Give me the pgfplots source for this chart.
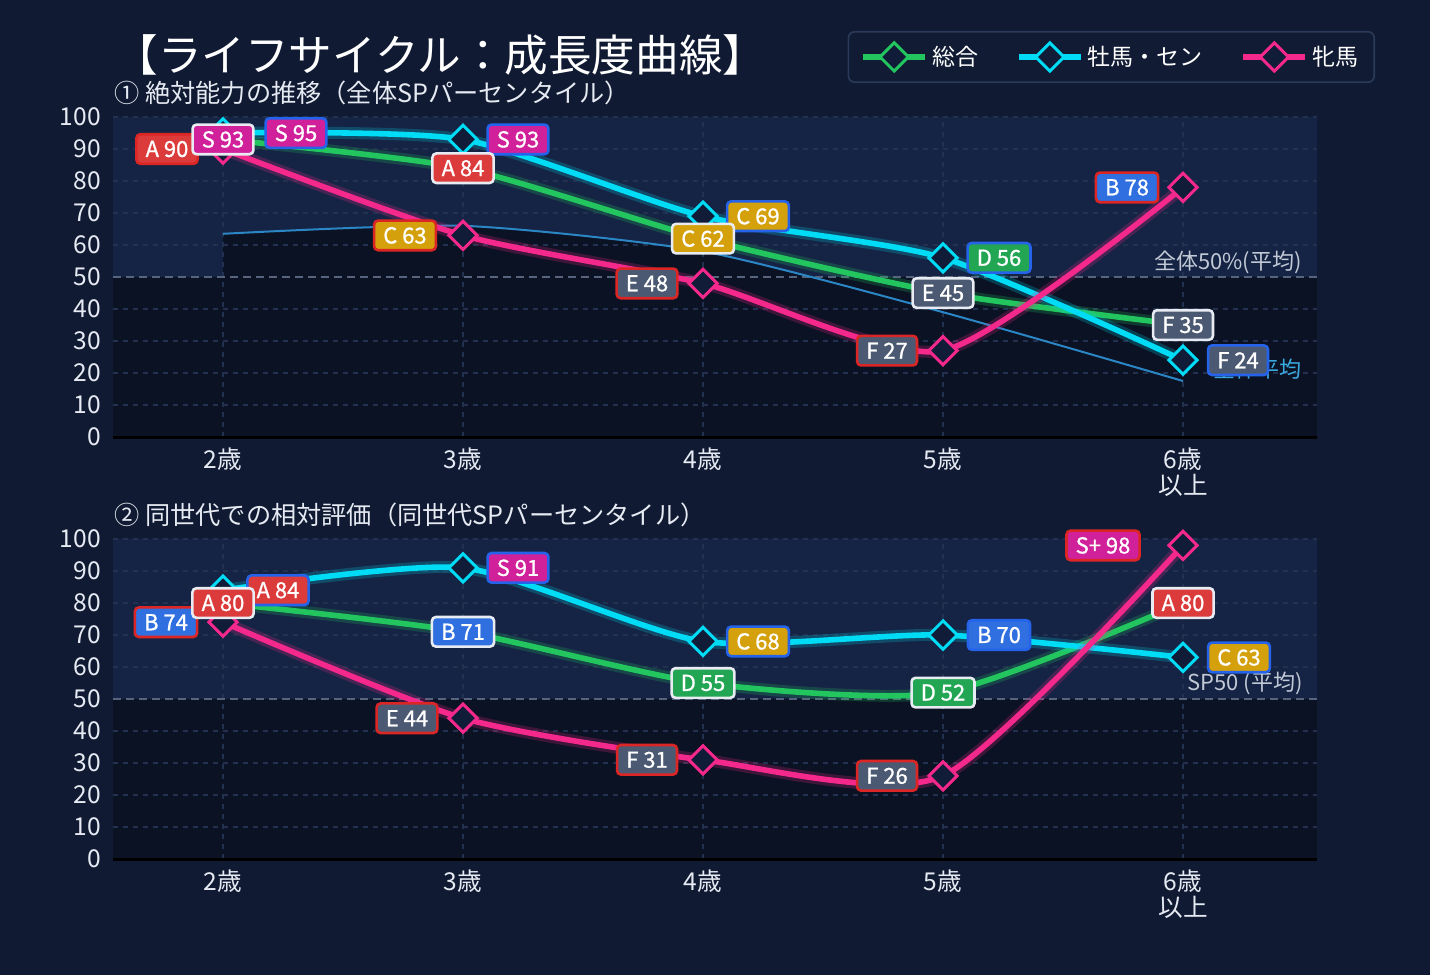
\documentclass[border=0pt]{standalone}
\usepackage{fontspec}
\setmainfont{Noto Sans CJK JP}
\newfontfamily\lblfont{Noto Sans CJK JP}[FakeBold=0.9]
\usepackage{pgfplots}
\usepackage{pgfplotstable}
\pgfplotsset{compat=1.18}

\definecolor{bgfig}{HTML}{101B33}
\definecolor{bglight}{HTML}{152444}
\definecolor{bgdark}{HTML}{0B1224}
\definecolor{gridc}{HTML}{22314F}
\definecolor{refline}{HTML}{56647E}
\definecolor{baseline}{HTML}{26375E}
\definecolor{cgreen}{HTML}{22C55E}
\definecolor{ccyan}{HTML}{00DCF5}
\definecolor{cpink}{HTML}{F5288C}
\definecolor{avgc}{HTML}{2B86C5}
\definecolor{avgtxt}{HTML}{3AA9E0}
\definecolor{mfill}{HTML}{111C38}
\definecolor{gS}{HTML}{D0209A}
\definecolor{gA}{HTML}{DC3B3B}
\definecolor{gB}{HTML}{2F6FDF}
\definecolor{gC}{HTML}{D4A00B}
\definecolor{gD}{HTML}{22A653}
\definecolor{gE}{HTML}{4B5A72}
\definecolor{bdW}{HTML}{E8ECF2}
\definecolor{bdB}{HTML}{2563EB}
\definecolor{bdR}{HTML}{DC2626}
\definecolor{txt}{HTML}{E6EAF2}
\definecolor{reftxt}{HTML}{C2C9D6}
\definecolor{legfill}{HTML}{111C34}
\definecolor{legdraw}{HTML}{2A3A58}

% x: 0=2歳, 1=3歳, 2=4歳, 3=5歳, 4=6歳以上
\pgfplotstableread{
x total male female avg
0 93 95 90 63.5
1 84 93 63 66
2 62 69 48 58
3 45 56 27 39
4 35 24 78 17.5
}\tabA
\pgfplotstableread{
x total male female
0 80 84 74
1 71 91 44
2 55 68 31
3 52 70 26
4 80 63 98
}\tabB

\pgfplotsset{
  lifeaxis/.style={
    scale only axis, width=602pt, height=160pt,
    xmin=-0.4583, xmax=4.5583, ymin=0, ymax=100,
    xtick={0,1,2,3,4},
    xticklabels={2歳,3歳,4歳,5歳,{6歳\\以上}},
    ytick={0,10,...,100},
    xticklabel style={align=center, font=\fontsize{12.3}{13}\selectfont, text=txt, yshift=-2pt},
    yticklabel style={font=\fontsize{12.3}{13}\selectfont, text=txt, xshift=-2.5pt},
    /pgf/number format/assume math mode=true,
    axis line style={draw=none},
    major tick length=0pt,
    clip=false,
  },
  glow/.style={forget plot, smooth, tension=0.4, line width=6pt, opacity=0.22},
  ser/.style={smooth, tension=0.4, line width=2.8pt, mark=square*, mark size=5pt,
    mark options={rotate=45, fill=mfill, draw=#1, line width=1.5pt, solid}},
  bgfill/.style={forget plot, draw=none, fill=#1},
}
\tikzset{
  lbl/.style={draw, line width=1.3pt, rounded corners=2pt, text=white,
    font=\lblfont\fontsize{11}{12}\selectfont, inner xsep=4.6pt, inner ysep=1.5pt,
    minimum height=14.8pt},
  gridl/.style={gridc, line width=0.6pt, dash pattern=on 2.5pt off 2.5pt},
  reft/.style={anchor=east, inner sep=0pt, font=\fontsize{11}{12}\selectfont},
}
% coordinate inside the axis, label drawn after the axis (on top of marks)
\newcommand{\lc}[3]{\coordinate (#1) at (axis cs:#2,#3);}
\newcommand{\lab}[5]{\node[lbl, fill=#3, draw=#4, xshift=#5] at (#1) {#2};}
\newcommand{\panelbg}{%
  \addplot[bgfill=bgdark] coordinates {(-0.4583,0) (-0.4583,100) (4.5583,100) (4.5583,0)} -- cycle;
  \addplot[bgfill=bglight] coordinates {(-0.4583,50) (-0.4583,100) (4.5583,100) (4.5583,50)} -- cycle;
}
\newcommand{\panelgrid}{%
  \pgfplotsinvokeforeach{10,20,30,40,60,70,80,90,100}{\draw[gridl] (axis cs:-0.4583,##1) -- (axis cs:4.5583,##1);}
  \pgfplotsinvokeforeach{0,1,2,3,4}{\draw[gridl] (axis cs:##1,0) -- (axis cs:##1,100);}
  \draw[refline, line width=1pt, dash pattern=on 4pt off 2.5pt] (axis cs:-0.4583,50) -- (axis cs:4.5583,50);
  \draw[baseline, line width=1.5pt] (axis cs:-0.4583,0) -- (axis cs:4.5583,0);
}

\begin{document}
\begin{tikzpicture}
\useasboundingbox (0,0) rectangle (715pt,-487.5pt);
\fill[bgfig] (0,0) rectangle (715pt,-487.5pt);

% ---------------- top axis ----------------
\begin{axis}[lifeaxis, at={(56.5pt,-218.5pt)}, anchor=south west,
  legend columns=3,
  legend style={at={(1.0482,1.26875)}, anchor=north east, fill=legfill, draw=legdraw,
    rounded corners=3pt, line width=0.8pt, text=white,
    font=\fontsize{11.5}{13}\selectfont, inner xsep=6pt, inner ysep=5pt,
    /tikz/every even column/.append style={column sep=17pt}},
  legend image code/.code={\draw[mark repeat=2, mark phase=2] plot coordinates {(0pt,0pt) (15.5pt,0pt) (31pt,0pt)};},
]
\panelbg
\addplot[forget plot, smooth, tension=0.4, fill=bgdark, draw=none] table[x=x,y=avg]{\tabA} \closedcycle;
\panelgrid
\addplot[forget plot, smooth, tension=0.4, avgc, line width=1pt] table[x=x,y=avg]{\tabA};

\addplot[glow, cgreen] table[x=x,y=total]{\tabA};
\addplot[ser=cgreen, cgreen] table[x=x,y=total]{\tabA};
\addlegendentry{総合}
\addplot[glow, ccyan] table[x=x,y=male]{\tabA};
\addplot[ser=ccyan, ccyan] table[x=x,y=male]{\tabA};
\addlegendentry{牡馬・セン}
\addplot[glow, cpink] table[x=x,y=female]{\tabA};
\addplot[ser=cpink, cpink] table[x=x,y=female]{\tabA};
\addlegendentry{牝馬}

\node[reft, text=reftxt] at (axis cs:4.496,54.7) {全体50\%(平均)};
\node[reft, text=avgtxt] at (axis cs:4.496,21.25) {全体平均};

\lc{tf0}{0}{90}\lc{tf1}{1}{63}\lc{tf2}{2}{48}\lc{tf3}{3}{27}\lc{tf4}{4}{78}
\lc{tm0}{0}{95}\lc{tm1}{1}{93}\lc{tm2}{2}{69}\lc{tm3}{3}{56}\lc{tm4}{4}{24}
\lc{tt0}{0}{93}\lc{tt1}{1}{84}\lc{tt2}{2}{62}\lc{tt3}{3}{45}\lc{tt4}{4}{35}
\end{axis}

% ---------------- bottom axis ----------------
\begin{axis}[lifeaxis, at={(56.5pt,-429.5pt)}, anchor=south west]
\panelbg
\panelgrid

\addplot[glow, cgreen] table[x=x,y=total]{\tabB};
\addplot[ser=cgreen, cgreen] table[x=x,y=total]{\tabB};
\addplot[glow, ccyan] table[x=x,y=male]{\tabB};
\addplot[ser=ccyan, ccyan] table[x=x,y=male]{\tabB};
\addplot[glow, cpink] table[x=x,y=female]{\tabB};
\addplot[ser=cpink, cpink] table[x=x,y=female]{\tabB};

\node[reft, text=reftxt] at (axis cs:4.5,55) {SP50 (平均)};

\lc{bf0}{0}{74}\lc{bf1}{1}{44}\lc{bf2}{2}{31}\lc{bf3}{3}{26}\lc{bf4}{4}{98}
\lc{bm0}{0}{84}\lc{bm1}{1}{91}\lc{bm2}{2}{68}\lc{bm3}{3}{70}\lc{bm4}{4}{63}
\lc{bt0}{0}{80}\lc{bt1}{1}{71}\lc{bt2}{2}{55}\lc{bt3}{3}{52}\lc{bt4}{4}{80}
\end{axis}

% ---------------- value labels (on top) ----------------
% top panel: female (red border), male (blue border), total (white border)
\lab{tf0}{A 90}{gA}{bdR}{-28pt}
\lab{tf1}{C 63}{gC}{bdR}{-29pt}
\lab{tf2}{E 48}{gE}{bdR}{-28pt}
\lab{tf3}{F 27}{gE}{bdR}{-28pt}
\lab{tf4}{B 78}{gB}{bdR}{-28pt}
\lab{tm0}{S 95}{gS}{bdB}{36.5pt}
\lab{tm1}{S 93}{gS}{bdB}{27.5pt}
\lab{tm2}{C 69}{gC}{bdB}{27.5pt}
\lab{tm3}{D 56}{gD}{bdB}{28pt}
\lab{tm4}{F 24}{gE}{bdB}{27.5pt}
\lab{tt0}{S 93}{gS}{bdW}{0pt}
\lab{tt1}{A 84}{gA}{bdW}{0pt}
\lab{tt2}{C 62}{gC}{bdW}{0pt}
\lab{tt3}{E 45}{gE}{bdW}{0pt}
\lab{tt4}{F 35}{gE}{bdW}{0pt}
% bottom panel
\lab{bf0}{B 74}{gB}{bdR}{-28.5pt}
\lab{bf1}{E 44}{gE}{bdR}{-28pt}
\lab{bf2}{F 31}{gE}{bdR}{-28pt}
\lab{bf3}{F 26}{gE}{bdR}{-28pt}
\lab{bf4}{S+ 98}{gS}{bdR}{-40pt}
\lab{bm0}{A 84}{gA}{bdB}{27.5pt}
\lab{bm1}{S 91}{gS}{bdB}{27.5pt}
\lab{bm2}{C 68}{gC}{bdB}{27.5pt}
\lab{bm3}{B 70}{gB}{bdB}{28pt}
\lab{bm4}{C 63}{gC}{bdB}{28pt}
\lab{bt0}{A 80}{gA}{bdW}{0pt}
\lab{bt1}{B 71}{gB}{bdW}{0pt}
\lab{bt2}{D 55}{gD}{bdW}{0pt}
\lab{bt3}{D 52}{gD}{bdW}{0pt}
\lab{bt4}{A 80}{gA}{bdW}{0pt}

% ---------------- titles ----------------
\node[anchor=west, text=white, font=\fontsize{21.8}{24}\selectfont, inner sep=0pt] at (57pt,-27.5pt) {【ライフサイクル：成長度曲線】};
\node[anchor=west, text=txt, font=\fontsize{12.6}{14}\selectfont, inner sep=0pt] at (57pt,-46.5pt) {① 絶対能力の推移（全体SPパーセンタイル）};
\node[anchor=west, text=txt, font=\fontsize{12.6}{14}\selectfont, inner sep=0pt] at (57pt,-257.5pt) {② 同世代での相対評価（同世代SPパーセンタイル）};
\end{tikzpicture}
\end{document}
